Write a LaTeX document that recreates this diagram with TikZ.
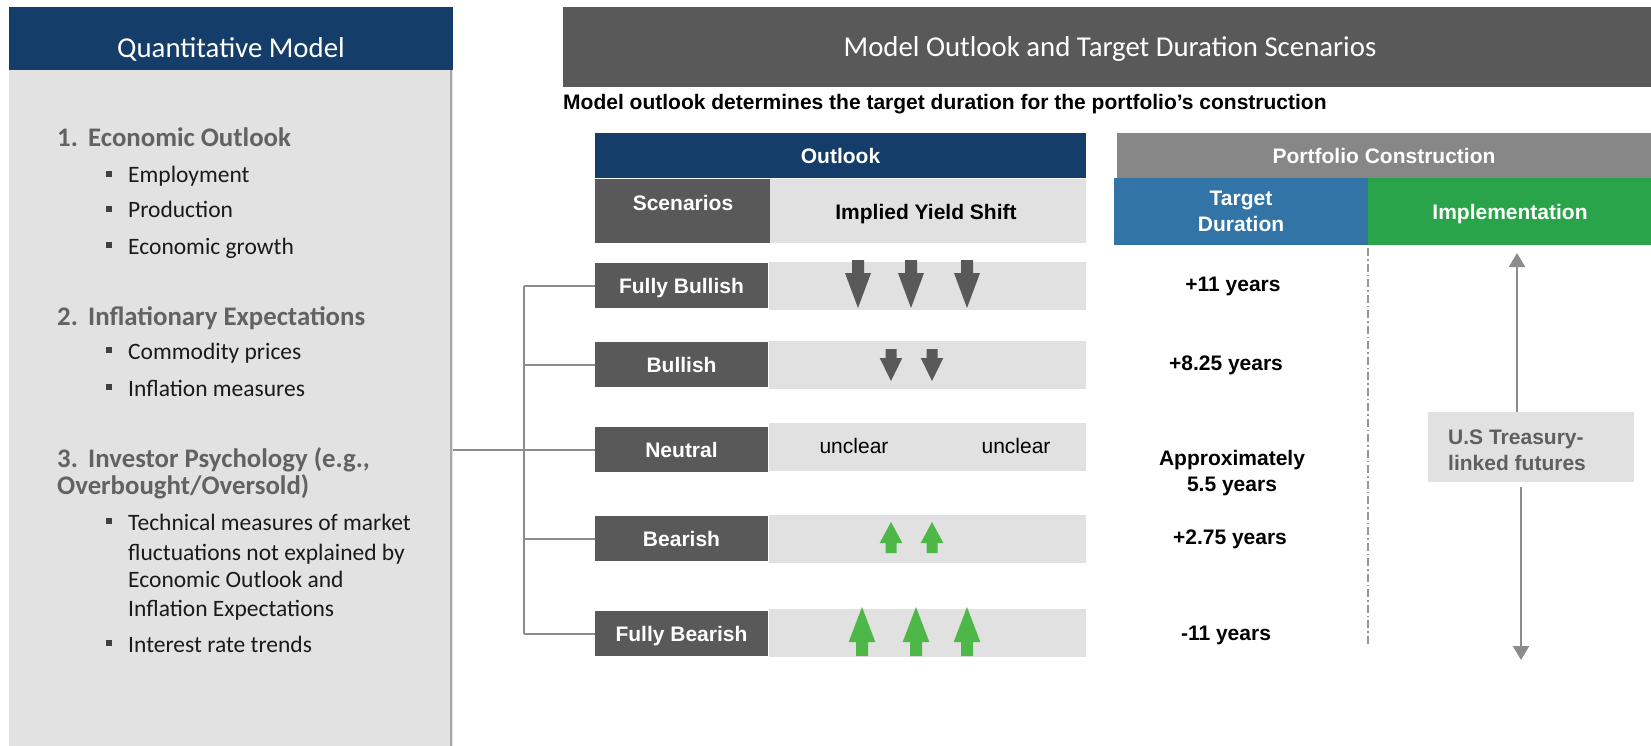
\documentclass[tikz,border=0pt]{standalone}
\usepackage{fontspec}
\setmainfont{Liberation Sans}
\newfontfamily\carl{Carlito}
\usetikzlibrary{arrows.meta}
\definecolor{navy}{RGB}{20,61,105}
\definecolor{dgrey}{RGB}{89,89,89}
\definecolor{lgrey}{RGB}{225,225,225}
\definecolor{pgrey}{RGB}{226,226,226}
\definecolor{bgrey}{RGB}{166,166,166}
\definecolor{hgrey}{RGB}{135,135,135}
\definecolor{tblue}{RGB}{50,116,166}
\definecolor{igreen}{RGB}{42,164,74}
\definecolor{agreen}{RGB}{77,183,72}
\definecolor{cgrey}{RGB}{140,140,140}
\definecolor{headtxt}{RGB}{98,98,98}
\definecolor{bodytxt}{RGB}{26,26,26}
\definecolor{ustxt}{RGB}{95,95,95}
\definecolor{bulcol}{RGB}{64,64,64}
\newcommand\tblfont{\fontsize{21}{26}\selectfont\bfseries}
\newcommand\regfont{\fontsize{21}{26}\selectfont}
\newcommand\lstfont{\carl\fontsize{23.5}{29}\selectfont}
\newcommand\hdfont{\carl\bfseries\fontsize{26.8}{27}\selectfont}
\newcommand\ttlfont{\carl\fontsize{28.8}{34}\selectfont}
% block arrow: colour, x, base y, head-base y, tip y, shaft half width, head half width
\newcommand\blockarrow[7]{\fill[#1] ({#2-#6},#3) -- ({#2+#6},#3) -- ({#2+#6},#4) -- ({#2+#7},#4) -- (#2,#5) -- ({#2-#7},#4) -- ({#2-#6},#4) -- cycle;}
\newcommand\bulsq[1]{\fill[bulcol] (106,{#1-12}) rectangle (112,{#1-6});}
\begin{document}
\begin{tikzpicture}[x=1pt,y=-1pt,
  panel/.style={inner sep=0pt, outer sep=0pt, draw=none},
  dbox/.style={panel, fill=dgrey, text=white, font=\tblfont, text height=15pt, text depth=0pt},
  lbox/.style={panel, fill=lgrey},
  ttl/.style={inner sep=0pt, font=\ttlfont, text=white},
  tbltxt/.style={inner sep=0pt, font=\tblfont, align=center},
  lst/.style={anchor=base west, inner sep=0pt, font=\lstfont, text=bodytxt},
  hd/.style={anchor=base west, inner sep=0pt, font=\hdfont, text=headtxt},
  conn/.style={draw=cgrey, line width=2pt},
  garrow/.style={draw=cgrey, line width=2.2pt, -{Triangle[width=16pt,length=14pt]}},
  ddash/.style={draw=cgrey!90, line width=1.5pt, dash pattern=on 8pt off 3pt on 1.5pt off 3pt}]
\useasboundingbox (0,0) rectangle (1651,746);
\fill[white] (0,0) rectangle (1651,746);

% ---------- left panel ----------
\node[panel, fill=pgrey, minimum width=444pt, minimum height=676pt] (qmp) at (231,408) {};
\draw[draw=bgrey, line width=2pt] ([xshift=-2pt]qmp.north east) -- ([xshift=-2pt]qmp.south east);
\node[panel, fill=navy, minimum width=444pt, minimum height=63pt] (qmh) at (231,38.5) {};
\node[ttl] (qmt) at (231,49) {Quantitative Model};

\node[hd] (n1) at (57,147) {1.};
\node[hd] (h1) at (88,147) {Economic Outlook};
\bulsq{183}\node[lst] (l1a) at (128,183) {Employment};
\bulsq{218}\node[lst] (l1b) at (128,218) {Production};
\bulsq{254}\node[lst] (l1c) at (128,254) {Economic growth};

\node[hd] (n2) at (57,325) {2.};
\node[hd] (h2) at (88,325) {Inflationary Expectations};
\bulsq{359}\node[lst] (l2a) at (128,359) {Commodity prices};
\bulsq{396}\node[lst] (l2b) at (128,396) {Inflation measures};

\node[hd] (n3) at (57,467) {3.};
\node[hd] (h3) at (88,467) {Investor Psychology (e.g.,};
\node[hd] (h3b) at (57,494) {Overbought/Oversold)};
\bulsq{530}\node[lst] (l3a) at (128,530) {Technical measures of market};
\node[lst] (l3b) at (128,560) {fluctuations not explained by};
\node[lst] (l3c) at (128,587) {Economic Outlook and};
\node[lst] (l3d) at (128,616) {Inflation Expectations};
\bulsq{652}\node[lst] (l3e) at (128,652) {Interest rate trends};

% ---------- right header ----------
\node[panel, fill=dgrey, minimum width=1088pt, minimum height=80pt] (mh) at (1107,47) {};
\node[ttl] (mht) at (1110,49) {Model Outlook and Target Duration Scenarios};
\node[anchor=base west, inner sep=0pt, font=\tblfont] (sub) at (563,110) {Model outlook determines the target duration for the portfolio’s construction};

% ---------- outlook table ----------
\node[panel, fill=navy, text=white, font=\tblfont, minimum width=491pt, minimum height=45pt] (outl) at (840.5,155.5) {Outlook};
\node[panel, fill=dgrey, minimum width=175pt, minimum height=64pt] (scen) at (682.5,211) {};
\node[tbltxt, text=white] (scent) at (683,203) {Scenarios};
\node[panel, fill=lgrey, minimum width=316pt, minimum height=64pt] (iys) at (928,211) {};
\node[tbltxt] (iyst) at (926,214) {Implied Yield Shift};

\node[dbox, minimum width=173pt, minimum height=45pt] (fb) at (681.5,285.5) {Fully Bullish};
\node[dbox, minimum width=173pt, minimum height=45pt] (bu) at (681.5,364.5) {Bullish};
\node[dbox, minimum width=173pt, minimum height=45pt] (ne) at (681.5,449.5) {Neutral};
\node[dbox, minimum width=173pt, minimum height=45pt] (be) at (681.5,538.5) {Bearish};
\node[dbox, minimum width=173pt, minimum height=45pt] (fbe) at (681.5,633.5) {Fully Bearish};

\node[lbox, minimum width=317pt, minimum height=48pt] (fbc) at (927.5,286) {};
\node[lbox, minimum width=317pt, minimum height=48pt] (buc) at (927.5,365) {};
\node[lbox, minimum width=317pt, minimum height=48pt] (nec) at (927.5,447) {};
\node[lbox, minimum width=317pt, minimum height=48pt] (bec) at (927.5,539) {};
\node[lbox, minimum width=317pt, minimum height=48pt] (fbec) at (927.5,633) {};

\blockarrow{dgrey}{858}{260}{273}{308}{6}{13}
\blockarrow{dgrey}{911}{260}{273}{308}{6}{13}
\blockarrow{dgrey}{967}{260}{273}{308}{6}{13}
\blockarrow{dgrey}{891}{349}{358}{381}{5.5}{11.3}
\blockarrow{dgrey}{932}{349}{358}{381}{5.5}{11.3}
\node[inner sep=0pt, font=\regfont] (unc1) at (854,446) {unclear};
\node[inner sep=0pt, font=\regfont] (unc2) at (1016,446) {unclear};
\blockarrow{agreen}{891}{553}{543}{522}{5.5}{11.3}
\blockarrow{agreen}{932}{553}{543}{522}{5.5}{11.3}
\blockarrow{agreen}{862}{656}{642}{607}{6}{13.3}
\blockarrow{agreen}{916}{656}{642}{607}{6}{13.3}
\blockarrow{agreen}{967}{656}{642}{607}{6}{13.3}

% ---------- bracket connectors ----------
\coordinate (br) at (524,450);
\draw[conn] (qmp.east |- br) -- (br);
\draw[conn] (br |- fb.west) -- (br |- fbe.west);
\foreach \n in {fb,bu,ne,be,fbe} \draw[conn] (br |- \n.west) -- (\n.west);

% ---------- portfolio construction ----------
\node[panel, fill=hgrey, text=white, font=\tblfont, minimum width=534pt, minimum height=45pt] (pch) at (1384,155.5) {Portfolio Construction};
\node[panel, fill=tblue, text=white, font=\tblfont, align=center, minimum width=254pt, minimum height=67pt] (td) at (1241,211.5) {Target\\Duration};
\node[panel, fill=igreen, minimum width=283pt, minimum height=67pt] (impl) at (1509.5,211.5) {};
\node[tbltxt, text=white] (implt) at (1510,214.5) {Implementation};

\node[tbltxt] (v1) at (1233,286) {+11 years};
\node[tbltxt] (v2) at (1226,365) {+8.25 years};
\node[tbltxt] (v3) at (1232,473) {Approximately\\5.5 years};
\node[tbltxt] (v4) at (1230,539) {+2.75 years};
\node[tbltxt] (v5) at (1226,635) {-11 years};

\coordinate (dt) at (1368,248);
\coordinate (db) at (1368,645);
\draw[ddash] (dt) -- (db);

\node[panel, fill=lgrey, text=ustxt, font=\tblfont, align=left, text width=166pt, inner xsep=20pt, minimum width=206pt, minimum height=70pt] (usb) at (1531,447) {};
\node[tbltxt, text=ustxt, align=left, anchor=west] (ust) at (1448,450) {U.S Treasury-\\linked futures};
\coordinate (uptip) at (1517,253);
\coordinate (dntip) at (1521,660);
\draw[garrow] (usb.north -| uptip) -- (uptip);
\draw[garrow, shorten <=5pt] (usb.south -| dntip) -- (dntip);
\end{tikzpicture}
\end{document}
